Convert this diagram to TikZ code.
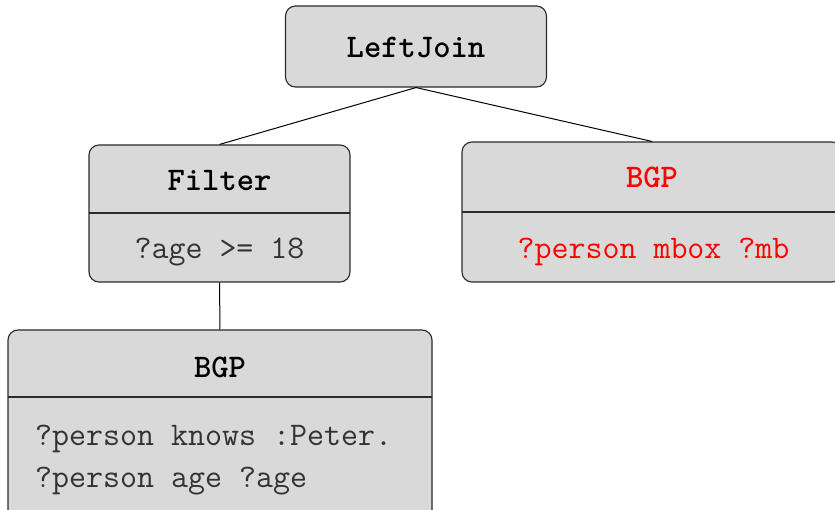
\documentclass[tikz,border=0pt]{standalone}
\definecolor{boxgray}{HTML}{D9D9D9}
\definecolor{edgegray}{HTML}{2A2A2A}
\definecolor{txtgray}{HTML}{333333}
\definecolor{bgpred}{HTML}{FF0000}
\begin{document}
\begin{tikzpicture}[x=1pt,y=-1pt,
  box/.style={draw=edgegray, fill=boxgray, rounded corners=10pt, line width=1.1pt, inner sep=0pt},
  divider/.style={draw=edgegray, line width=1.1pt},
  link/.style={draw=black, line width=1pt},
  lbl/.style={anchor=base, inner sep=0pt, font=\fontsize{33}{39}\selectfont\ttfamily},
  ttl/.style={lbl, font=\fontsize{33}{39}\selectfont\ttfamily\bfseries},
  ]
\useasboundingbox (0,0) rectangle (835,509);
\clip (0,0) rectangle (835,509);

% boxes
\node[box, minimum width=261pt, minimum height=81pt] (lj) at (416,46.5) {};
\node[box, minimum width=261pt, minimum height=137pt] (filter) at (219.5,213.5) {};
\node[box, minimum width=380pt, minimum height=140pt] (rbgp) at (652,212) {};
\node[box, minimum width=424pt, minimum height=200pt] (bgp) at (220,430) {};

% dividers
\draw[divider] (89,213) -- (350,213);
\draw[divider] (462,212) -- (842,212);
\draw[divider] (8,397) -- (432,397);

% connectors
\draw[link] (lj.south) -- (filter.north);
\draw[link] (lj.south) -- (rbgp.north);
\draw[link] (filter.south) -- (bgp.north);

% texts
\node[ttl, text=black] (tlj) at (416,57) {LeftJoin};
\node[ttl, text=black] (tfilter) at (219.5,190) {Filter};
\node[lbl, text=txtgray] (cfilter) at (219.5,258) {?age >= 18};
\node[ttl, text=bgpred] (trbgp) at (652,187) {BGP};
\node[lbl, text=bgpred] (crbgp) at (653.5,258) {?person mbox ?mb};
\node[ttl, text=black] (tbgp) at (220,377) {BGP};
\node[lbl, text=txtgray, anchor=base west] (cbgp1) at (35,445) {?person knows :Peter.};
\node[lbl, text=txtgray, anchor=base west] (cbgp2) at (35,487) {?person age ?age};
\end{tikzpicture}
\end{document}
